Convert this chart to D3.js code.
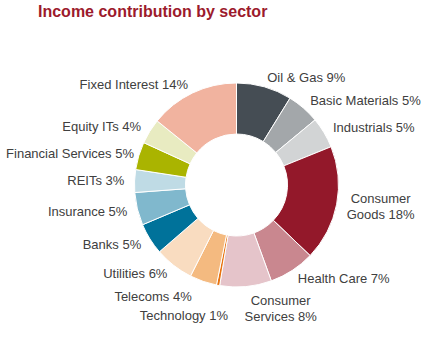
<!DOCTYPE html>
<html>
<head>
<meta charset="utf-8">
<script src="https://cdn.jsdelivr.net/npm/d3@7"></script>
<style>
  body { margin: 0; background: #fff; }
  text { font-family: "Liberation Sans", Arial, sans-serif; }
</style>
</head>
<body>
<div id="chart"></div>
<script>
// sectors, clockwise from 12 o'clock
let sectors = ["Oil & Gas", "Basic Materials", "Industrials", "Consumer Goods", "Health Care",
    "Consumer Services", "Technology", "Telecoms", "Utilities", "Banks", "Insurance", "REITs",
    "Financial Services", "Equity ITs", "Fixed Interest"]
// slice sizes (%)
let shares = [8.8, 5.2, 4.9, 18.3, 7.3, 8.2, 0.5, 4.3, 6.2, 5.0, 5.2, 3.6, 4.4, 4.0, 14.2]
// percentages as printed on the labels
let shownPct = [9, 5, 5, 18, 7, 8, 1, 4, 6, 5, 5, 3, 5, 4, 14]
let colors = ["#454d54", "#a3a7aa", "#d2d4d5", "#93182a", "#c9878f", "#e5c4ca", "#e8730f",
    "#f4ba80", "#f9dcc0", "#00729a", "#80b8cd", "#bfdbe5", "#aab400", "#e8ebc1", "#f1b39f"]
let wrapped = ["Consumer Goods", "Consumer Services"]

let width = 439, height = 354
let cx = 236.5, cy = 185
let outerR = 102, innerR = 51, labelR = 112

// label nudges where the labels would collide
let labelNudge = {
    "Technology": [12, 20],
    "Consumer Services": [34, -4],
    "Telecoms": [-8, 6],
    "Financial Services": [5, 0]
}

let svg = d3.select("#chart").append("svg")
    .attr("width", width)
    .attr("height", height)

svg.append("text")
    .attr("x", 38)
    .attr("y", 17)
    .attr("fill", "#9c1a2c")
    .style("font-size", "16px")
    .style("font-weight", "bold")
    .text("Income contribution by sector")

let g = svg.append("g")
    .attr("transform", "translate(" + cx + "," + cy + ")")

let data = sectors.map(function(s, i) {
    return { name: s, value: shares[i], pct: shownPct[i], color: colors[i] }
})

let pie = d3.pie().sort(null).value(function(d) { return d.value })
let arc = d3.arc().innerRadius(innerR).outerRadius(outerR)

let arcs = pie(data)

g.selectAll("path.slice")
    .data(arcs)
    .enter()
    .append("path")
    .attr("class", "slice")
    .attr("d", arc)
    .attr("fill", function(d) { return d.data.color })
    .attr("stroke", "#fff")
    .attr("stroke-width", 1)

// labels
let lineH = 16
arcs.forEach(function(a) {
    let name = a.data.name
    let ang = (a.startAngle + a.endAngle) / 2
    let s = Math.sin(ang), c = Math.cos(ang)
    let px = labelR * s, py = -labelR * c
    let nudge = labelNudge[name] || [0, 0]
    px += nudge[0]
    py += nudge[1]

    let lines
    if (wrapped.indexOf(name) >= 0) {
        let parts = name.split(" ")
        lines = [parts[0], parts.slice(1).join(" ") + " " + a.data.pct + "%"]
    } else {
        lines = [name + " " + a.data.pct + "%"]
    }

    let t = g.append("text")
        .attr("fill", "#404040")
        .style("font-size", "13px")
        .attr("text-anchor", "middle")

    lines.forEach(function(l, i) {
        t.append("tspan")
            .attr("x", 0)
            .attr("y", (i - (lines.length - 1) / 2) * lineH)
            .attr("dy", "0.35em")
            .text(l)
    })

    let w = t.node().getBBox().width
    let h = lines.length * lineH
    let tx = px, ty = py
    if (s > 0.15) tx = px + w / 2
    else if (s < -0.15) tx = px - w / 2
    else ty = py + (c < 0 ? h / 2 : -h / 2)

    t.attr("transform", "translate(" + tx + "," + ty + ")")
})
</script>
</body>
</html>
